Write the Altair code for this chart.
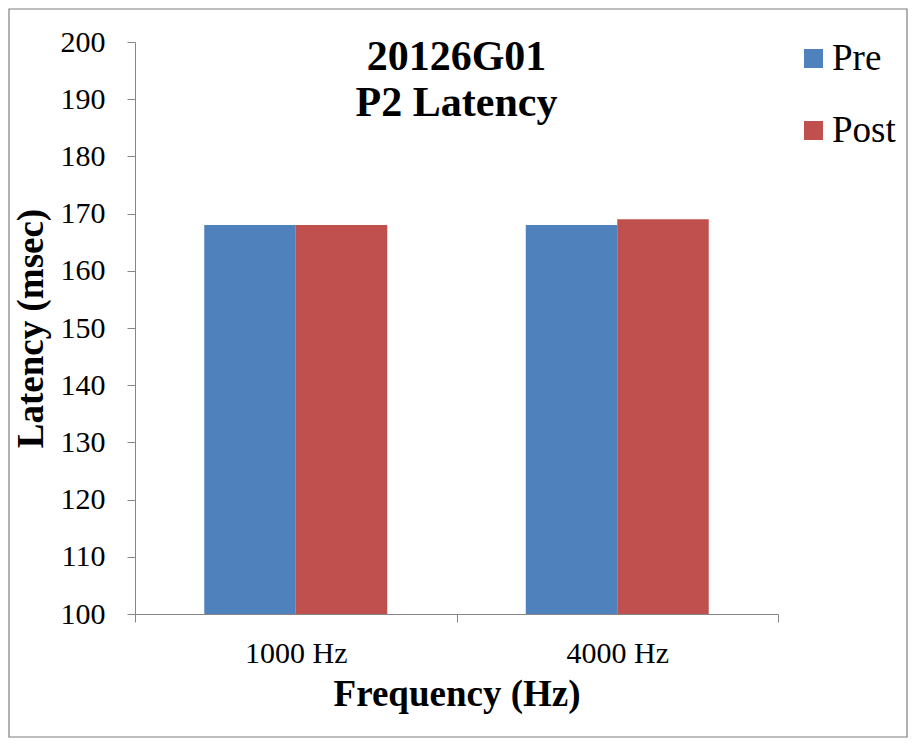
import altair as alt
import pandas as pd

categories = ["1000 Hz", "4000 Hz"]
series = ["Pre", "Post"]
pre_values = [168, 168]
post_values = [168, 169]
colors = ["#4F81BD", "#C0504D"]
title_lines = ["20126G01", "P2 Latency"]

rows = []
for i, c in enumerate(categories):
    rows.append({"Frequency": c, "Series": "Pre", "Latency": pre_values[i]})
    rows.append({"Frequency": c, "Series": "Post", "Latency": post_values[i]})
df = pd.DataFrame(rows)

W, H = 643, 572
FONT = "Liberation Serif"

bars = alt.Chart(df).mark_bar().encode(
    x=alt.X("Frequency:N", sort=categories,
            scale=alt.Scale(paddingInner=0, paddingOuter=0),
            axis=alt.Axis(title="Frequency (Hz)", labelAngle=0, tickBand="extent",
                          labelFont=FONT, titleFont=FONT,
                          labelFontSize=30, labelPadding=16, tickSize=8,
                          titleFontSize=37, titleFontWeight="bold", titlePadding=8,
                          domainColor="#868686", tickColor="#868686",
                          labelColor="black", titleColor="black")),
    xOffset=alt.XOffset("Series:N", sort=series,
                        scale=alt.Scale(paddingInner=0, paddingOuter=0.757)),
    y=alt.Y("Latency:Q", scale=alt.Scale(domain=[100, 200], zero=False, nice=False),
            axis=alt.Axis(title="Latency (msec)", values=list(range(100, 201, 10)),
                          labelFont=FONT, titleFont=FONT,
                          grid=False, labelFontSize=30, labelPadding=22, tickSize=8,
                          titleFontSize=37, titleFontWeight="bold", titlePadding=10,
                          domainColor="#868686", tickColor="#868686",
                          labelColor="black", titleColor="black")),
    y2=alt.datum(100),
    color=alt.Color("Series:N", sort=series,
                    scale=alt.Scale(domain=series, range=colors),
                    legend=alt.Legend(title=None, orient="none", legendX=660, legendY=-2,
                                      symbolType="square", symbolSize=361,
                                      labelFont=FONT, labelFontSize=37, rowPadding=34,
                                      labelOffset=0, padding=0,
                                      labelColor="black", symbolStrokeWidth=0)),
)

title = alt.Chart(pd.DataFrame({"t": [title_lines]})).mark_text(
    font=FONT, fontSize=42, fontWeight="bold", align="center", baseline="alphabetic",
    lineHeight=46, color="black"
).encode(x=alt.value(W / 2), y=alt.value(28), text="t")

border = alt.Chart(pd.DataFrame({"a": [0]})).mark_rect(
    fillOpacity=0, stroke="#7f7f7f", strokeWidth=1.2
).encode(x=alt.value(-126), x2=alt.value(772), y=alt.value(-33), y2=alt.value(695))

chart = alt.layer(border, bars, title).properties(
    width=W, height=H,
    autosize=alt.AutoSizeParams(type="none"),
    padding={"left": 127, "top": 34, "right": 130, "bottom": 124},
).configure(font=FONT).configure_axis(
    labelFont=FONT, titleFont=FONT
).configure_legend(labelFont=FONT).configure_view(stroke=None)

chart.save("out.html", embed_options={"renderer": "svg", "actions": False})
